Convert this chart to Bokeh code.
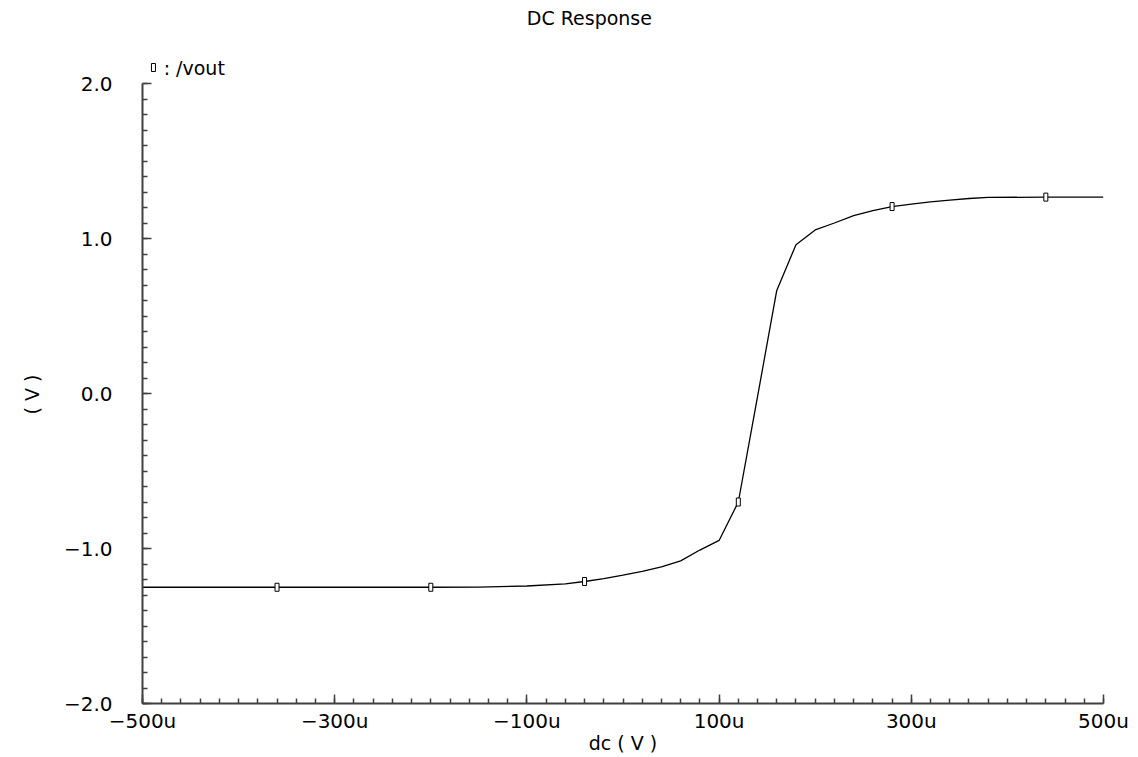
from bokeh.plotting import figure
from bokeh.models import Range1d, FixedTicker, Title
from bokeh.core.properties import value
from bokeh.embed import file_html
from bokeh.resources import INLINE

# DC sweep of the input (in microvolts) and the resulting output voltage
dc_u = [-500, -400, -300, -200, -150, -100, -60, -40, -20, 0, 20, 40, 60, 80,
        100, 120, 140, 160, 180, 200, 220, 240, 260, 280, 300, 320, 340, 360,
        380, 440, 500]
vout = [-1.25, -1.25, -1.25, -1.25, -1.249, -1.242, -1.228, -1.213, -1.195,
        -1.172, -1.148, -1.118, -1.08, -1.01, -0.948, -0.70, -0.02, 0.665,
        0.96, 1.055, 1.10, 1.148, 1.18, 1.206, 1.222, 1.236, 1.248, 1.258,
        1.265, 1.267, 1.267]

# trace identification markers placed along the curve
marker_u = [-360, -200, -40, 120, 280, 440]
marker_v = [-1.25, -1.25, -1.213, -0.70, 1.206, 1.267]

x_ticks = [-500, -300, -100, 100, 300, 500]
x_tick_labels = ["\u2212500u", "\u2212300u", "\u2212100u", "100u", "300u", "500u"]
y_ticks = [-2, -1, 0, 1, 2]
y_tick_labels = ["\u22122.0", "\u22121.0", "0.0", "1.0", "2.0"]

title_text = "DC Response"
legend_text = ": /vout"

W, H = 1138, 757
LEFT, RIGHT, BOTTOM = 142, 35, 54
PX_PER_V = 155.0
Y_TOP = -2 + (H - BOTTOM) / PX_PER_V   # frame reaches the top of the canvas

FONT = value("DejaVu Sans")
AXIS_COLOR = "#404040"

p = figure(width=W, height=H, output_backend="svg", toolbar_location=None,
           x_range=Range1d(-500, 500), y_range=Range1d(-2, Y_TOP))
p.min_border_left = LEFT
p.min_border_right = RIGHT
p.min_border_top = 0
p.min_border_bottom = BOTTOM
p.outline_line_color = None
p.xgrid.grid_line_color = None
p.ygrid.grid_line_color = None
p.background_fill_color = "white"
p.border_fill_color = "white"

# x axis
xa = p.xaxis[0]
xa.ticker = FixedTicker(ticks=x_ticks, minor_ticks=list(range(-500, 501, 20)))
xa.major_label_overrides = dict(zip(x_ticks, x_tick_labels))
xa.axis_label = "dc ( V )"
# y axis, drawn only over -2 .. 2
ya = p.yaxis[0]
ya.ticker = FixedTicker(ticks=y_ticks,
                        minor_ticks=[round(-2 + 0.1 * i, 1) for i in range(41)])
ya.major_label_overrides = dict(zip(y_ticks, y_tick_labels))
ya.bounds = (-2, 2)

for ax in (xa, ya):
    ax.axis_line_color = AXIS_COLOR
    ax.axis_line_width = 2
    ax.major_tick_line_color = AXIS_COLOR
    ax.minor_tick_line_color = AXIS_COLOR
    ax.major_tick_line_width = 1.5
    ax.minor_tick_line_width = 1.5
    ax.major_tick_in = 9
    ax.major_tick_out = 0
    ax.minor_tick_in = 5
    ax.minor_tick_out = 0
    ax.major_label_text_font = "DejaVu Sans"
    ax.major_label_text_font_size = "20px"
    ax.major_label_text_color = "black"
    ax.axis_label_text_font = "DejaVu Sans"
    ax.axis_label_text_font_size = "19px"
    ax.axis_label_text_font_style = "normal"
    ax.axis_label_text_color = "black"

xa.major_label_standoff = 5
xa.axis_label_standoff = -4
ya.major_label_standoff = 30

# y unit label, placed beside the middle of the axis span
y_unit = Title(text="( V )", align="left", offset=289, standoff=35,
               text_font="DejaVu Sans", text_font_size="19px",
               text_font_style="normal", text_color="black")
p.add_layout(y_unit, "left")

# the response curve
p.line(dc_u, vout, line_color="black", line_width=1.3)
p.rect(marker_u, marker_v, width=4, height=8, width_units="screen",
       height_units="screen", fill_color="white", line_color="black",
       line_width=1)

# title and trace legend drawn in the space above the y axis
title_y = -2 + (H - BOTTOM - 17) / PX_PER_V
legend_y = -2 + (H - BOTTOM - 67) / PX_PER_V
p.text(x=[-35], y=[title_y], text=[title_text], text_align="center",
       text_baseline="middle", text_font=FONT, text_font_size="19px",
       text_color="black")
p.rect([-488.6], [legend_y], width=4, height=8, width_units="screen",
       height_units="screen", fill_color="white", line_color="black",
       line_width=1)
p.text(x=[-478], y=[legend_y], text=[legend_text], text_align="left",
       text_baseline="middle", text_font=FONT, text_font_size="19px",
       text_color="black")

open("out.html", "w").write(file_html(p, INLINE))
